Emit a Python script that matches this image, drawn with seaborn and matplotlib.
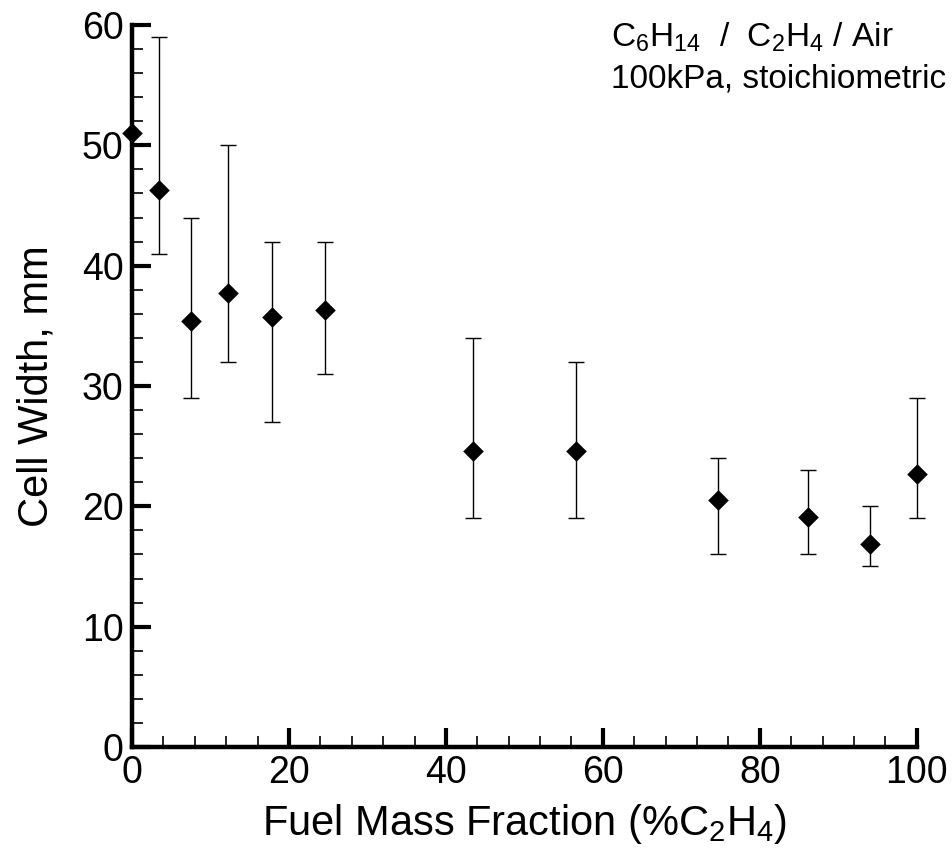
import numpy as np
import pandas as pd
import matplotlib
matplotlib.use("Agg")
import matplotlib.pyplot as plt
from matplotlib.ticker import MultipleLocator
import seaborn as sns

# Data
fraction = [0.0, 3.5, 7.5, 12.2, 17.8, 24.6, 43.4, 56.6, 74.7, 86.2, 94.1, 100.0]
cell_width = [51.0, 46.3, 35.4, 37.7, 35.7, 36.3, 24.6, 24.6, 20.5, 19.1, 16.9, 22.7]
err_low = [np.nan, 41, 29, 32, 27, 31, 19, 19, 16, 16, 15, 19]
err_high = [np.nan, 59, 44, 50, 42, 42, 34, 32, 24, 23, 20, 29]

sns.set_style("ticks")
plt.rcParams['font.family'] = ['Liberation Sans', 'DejaVu Sans']
plt.rcParams['mathtext.fontset'] = 'custom'
plt.rcParams['mathtext.rm'] = 'Liberation Sans'
plt.rcParams['mathtext.it'] = 'Liberation Sans'
plt.rcParams['text.color'] = 'black'
plt.rcParams['axes.labelcolor'] = 'black'

df = pd.DataFrame({"x": fraction, "y": cell_width, "lo": err_low, "hi": err_high})

fig = plt.figure(figsize=(9.53, 8.5), dpi=100)
ax = fig.add_axes([0.1385, 0.1212, 0.8235, 0.8494])

yerr = np.vstack([df["y"] - df["lo"], df["hi"] - df["y"]])
ax.errorbar(df["x"], df["y"], yerr=yerr, fmt="none", ecolor="black",
            elinewidth=1.0, capsize=5.8, capthick=1.0, zorder=2, clip_on=False)
sns.scatterplot(data=df, x="x", y="y", marker="D", s=110, color="black",
                edgecolor="black", linewidth=0, ax=ax, zorder=3, clip_on=False)

ax.set_xlim(0, 100)
ax.set_ylim(0, 60)
ax.xaxis.set_major_locator(MultipleLocator(20))
ax.xaxis.set_minor_locator(MultipleLocator(4))
ax.yaxis.set_major_locator(MultipleLocator(10))
ax.yaxis.set_minor_locator(MultipleLocator(2))

for s in ["top", "right"]:
    ax.spines[s].set_visible(False)
for s in ["left", "bottom"]:
    ax.spines[s].set_linewidth(3.2)
    ax.spines[s].set_color("black")

ax.tick_params(which="major", direction="in", length=14, width=3.0,
               labelsize=27, pad=6, colors="black")
ax.tick_params(which="minor", direction="in", length=8, width=1.2, colors="black")

ax.set_xlabel(r"Fuel Mass Fraction (%C$_2$H$_4$)", fontsize=30, labelpad=8)
ax.set_ylabel("Cell Width, mm", fontsize=30, labelpad=18)

fig.text(611 / 953, 1 - 47 / 850, "C$_6$H$_{14}$  /  C$_2$H$_4$ / Air",
         fontsize=24, va="baseline", ha="left")
fig.text(611 / 953, 1 - 87 / 850, "100kPa, stoichiometric",
         fontsize=24, va="baseline", ha="left")

fig.savefig("out.png", dpi=100)
